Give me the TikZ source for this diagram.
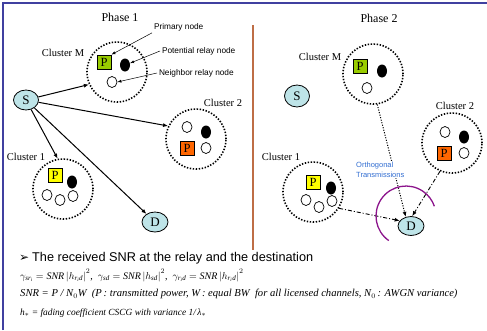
\documentclass[tikz,border=0pt]{standalone}
\usepackage{fontspec}
\setmainfont{Liberation Serif}
\newfontfamily\sansf{Liberation Sans}
\newfontfamily\symf{DejaVu Sans}
\usetikzlibrary{shapes.geometric,arrows.meta}

\definecolor{frameblue}{RGB}{64,64,160}
\definecolor{divider}{RGB}{190,110,70}
\definecolor{nodecyan}{RGB}{190,228,232}
\definecolor{pgreen}{RGB}{153,204,0}
\definecolor{pyellow}{RGB}{255,255,0}
\definecolor{porange}{RGB}{255,102,0}
\definecolor{arcpurple}{RGB}{140,20,140}
\definecolor{noteblue}{RGB}{50,110,210}

\tikzset{
  endpoint/.style={ellipse, draw, fill=nodecyan, line width=0.8pt, inner sep=0pt,
    minimum width=25pt, minimum height=20pt, font=\fontsize{13}{13}\selectfont},
  cluster/.style={circle, draw, line width=1.6pt, dash pattern=on 1.4pt off 1.6pt,
    minimum size=60pt, inner sep=0pt},
  pbox/.style={rectangle, draw, line width=0.8pt, minimum size=14pt, inner sep=0pt,
    font=\fontsize{12.5}{12.5}\selectfont},
  relay/.style={ellipse, fill=black, minimum width=10pt, minimum height=13pt, inner sep=0pt},
  neighbor/.style={ellipse, draw, fill=white, line width=0.7pt, minimum width=10pt,
    minimum height=11pt, inner sep=0pt},
  clabel/.style={font=\fontsize{10.5}{10.5}\selectfont, inner sep=0pt},
  phase/.style={font=\fontsize{12}{12}\selectfont, inner sep=0pt},
  note/.style={font=\sansf\fontsize{8.3}{8.3}\selectfont, anchor=west, inner sep=0pt, outer sep=2pt},
  link/.style={line width=1pt, -{Latex[length=5pt,width=4pt]}},
  pointer/.style={line width=0.5pt, -{Latex[length=4pt,width=3pt]}},
  orth/.style={line width=0.9pt, -{Latex[length=5pt,width=4pt]}},
  dotline/.style={line width=1pt, dash pattern=on 1.1pt off 1.5pt},
  dashdotline/.style={dash pattern=on 4pt off 2pt on 1pt off 2pt},
  formula/.style={anchor=west, inner sep=0pt},
}

\begin{document}
\begin{tikzpicture}[x=1pt,y=-1pt]
\useasboundingbox (0,0) rectangle (487,330);
\fill[white] (0,0) rectangle (487,330);

% slide frame and phase divider
\draw[frameblue, line width=2.4pt, line join=miter] (2.8,330) -- (2.8,2.8) -- (487,2.8);
\draw[divider, line width=1.2pt] (253,25) -- (253,250);

% ---------------- Phase 1 ----------------
\node[phase] (ph1) at (120,17) {Phase 1};

% cluster M
\node[cluster] (M1) at (117,72) {};
\node[clabel] (lM1) at (63,53) {Cluster M};
\node[pbox, fill=pgreen] (PM1) at (104,62) {P};
\node[relay] (RM1) at (125,65) {};
\node[neighbor] (NM1) at (112,82) {};

% legend
\node[note] (tPrim) at (152,27) {Primary node};
\node[note] (tPot) at (160,51) {Potential relay node};
\node[note] (tNei) at (157,73) {Neighbor relay node};
\draw[pointer] (tPrim.south west) -- (PM1.north east);
\draw[pointer] (tPot.west) -- (RM1.20);
\draw[pointer] (tNei.west) -- (NM1.east);

% cluster 2
\node[cluster] (C2a) at (196,139) {};
\node[clabel] (lC2a) at (223,103) {Cluster 2};
\node[neighbor] (NC2a1) at (187,127) {};
\node[relay] (RC2a) at (206,132) {};
\node[pbox, fill=porange] (PC2a) at (187,148) {P};
\node[neighbor] (NC2a2) at (206,148) {};

% cluster 1
\node[cluster] (C1a) at (63,189) {};
\node[clabel] (lC1a) at (26,157) {Cluster 1};
\node[pbox, fill=pyellow] (PC1a) at (55,175) {P};
\node[relay] (RC1a) at (72,182) {};
\node[neighbor] (NC1a1) at (47,195) {};
\node[neighbor] (NC1a2) at (60,200) {};
\node[neighbor] (NC1a3) at (73,196) {};

% source and destination
\node[endpoint] (S1) at (26,100) {S};
\node[endpoint, minimum width=26pt] (D1) at (155,222) {D};

\draw[link] (S1) -- (M1.204);
\draw[link] (S1) -- (C2a.155);
\draw[link] (S1) -- (C1a.100);
\draw[link] (S1) -- (D1);

% ---------------- Phase 2 ----------------
\node[phase] (ph2) at (379,18) {Phase 2};

\node[endpoint, minimum height=22pt] (S2) at (297,96) {S};

% cluster M
\node[cluster] (M2) at (373,74) {};
\node[clabel] (lM2) at (320,57) {Cluster M};
\node[pbox, fill=pgreen] (PM2) at (360,66) {P};
\node[relay] (RM2) at (382,71) {};
\node[neighbor] (NM2) at (367,88) {};

% cluster 2
\node[cluster] (C2b) at (452,143) {};
\node[clabel] (lC2b) at (455,106) {Cluster 2};
\node[neighbor] (NC2b1) at (445,132) {};
\node[relay] (RC2b) at (464,137) {};
\node[pbox, fill=porange] (PC2b) at (444,153) {P};
\node[neighbor] (NC2b2) at (464,153) {};

% cluster 1
\node[cluster] (C1b) at (313,192) {};
\node[clabel] (lC1b) at (281,157) {Cluster 1};
\node[pbox, fill=pyellow] (PC1b) at (313,182) {P};
\node[relay] (RC1b) at (331,188) {};
\node[neighbor] (NC1b1) at (306,200) {};
\node[neighbor] (NC1b2) at (319,207) {};
\node[neighbor] (NC1b3) at (332,201) {};

\node[endpoint, minimum width=26pt, minimum height=19pt] (D2) at (411,226) {D};

% relay transmissions towards D
\draw[orth, dotline] (M2.278) -- (D2.120);
\draw[orth, dashdotline] (C2b.247) -- (D2.83);
\draw[orth, dashdotline] (C1b.328) -- (D2.155);

% reception boundary around D
\coordinate (arcS) at (388.8,240.6);
\draw[arcpurple, line width=1.3pt] (arcS) arc[start angle=235, end angle=19, radius=30pt];

\node[font=\sansf\fontsize{7.5}{9.5}\selectfont, text=noteblue, fill=white, align=left,
      anchor=north west, inner sep=1pt] (orthT) at (355,161) {Orthogonal\\Transmissions};

% ---------------- SNR description ----------------
\node[anchor=west, inner sep=0pt, font=\symf\fontsize{12}{12}\selectfont] (bul) at (19,258.5) {➢};
\node[anchor=west, inner sep=0pt, font=\sansf\fontsize{12.7}{12.7}\selectfont] (head) at (32,258)
  {The received SNR at the relay and the destination};

\node[formula, font=\fontsize{10}{10}\selectfont] (f1) at (20,275.5)
  {$\gamma_{\mathit{sr_i}} = \mathit{SNR}\left|h_{\mathit{r_id}}\right|^2$,\ \ $\gamma_{\mathit{sd}} = \mathit{SNR}\left|h_{\mathit{sd}}\right|^2$,\ \ $\gamma_{\mathit{r_id}} = \mathit{SNR}\left|h_{\mathit{r_id}}\right|^2$};
\node[formula, font=\fontsize{10.6}{10.6}\selectfont] (f2) at (20,294)
  {\itshape SNR = P / N$_0$W \ (P\,: transmitted power, W\,: equal BW \ for all licensed channels, N$_0$\,: AWGN variance)};
\node[formula, font=\fontsize{9.4}{9.4}\selectfont] (f3) at (20,313)
  {\itshape h$_*$ = fading coefficient CSCG with variance 1/\,λ$_*$};
\end{tikzpicture}
\end{document}
